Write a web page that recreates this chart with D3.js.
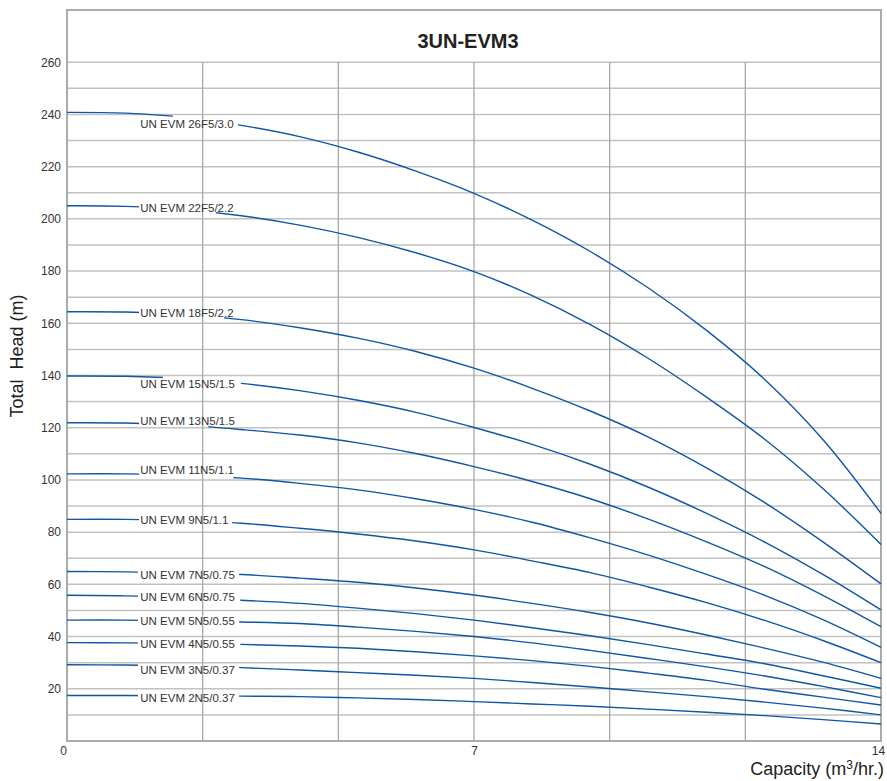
<html>
<head>
<meta charset="UTF-8">
<title>3UN-EVM3</title>
<script src="https://d3js.org/d3.v7.min.js"></script>
<style>
html,body{margin:0;padding:0;background:#fff;}
text{font-family:"Liberation Sans",Arial,sans-serif;}
</style>
</head>
<body>
<div id="container"></div>
<script>
// capacity points (m3/hr) shared by every curve
const capacity = [0, 1, 2, 3, 4, 5, 6, 7, 8, 9, 10, 11, 12, 13, 14]

const models = ['UN EVM 26F5/3.0', 'UN EVM 22F5/2.2', 'UN EVM 18F5/2.2', 'UN EVM 15N5/1.5',
  'UN EVM 13N5/1.5', 'UN EVM 11N5/1.1', 'UN EVM 9N5/1.1', 'UN EVM 7N5/0.75', 'UN EVM 6N5/0.75',
  'UN EVM 5N5/0.55', 'UN EVM 4N5/0.55', 'UN EVM 3N5/0.37', 'UN EVM 2N5/0.37']

// total head (m) for each model at the capacity points above
const head26F5 = [240.8, 240.5, 238.9, 235.8, 231.5, 225.6, 218.3, 209.8, 199.5, 187.5, 173.5, 157.3, 138.5, 115.5, 87.2]
const head22F5 = [205, 204.8, 203.6, 201.2, 197.6, 192.9, 187, 179.8, 170.6, 159.5, 146.5, 131.7, 115.6, 96.7, 75.3]
const head18F5 = [164.4, 164.3, 163.4, 161.4, 158.3, 154.3, 149.2, 142.8, 135.1, 126.4, 116.4, 104.6, 91.3, 76.3, 60.2]
const head15N5 = [139.8, 139.7, 138.9, 137, 134.2, 130.5, 125.9, 120.1, 113.6, 106, 97.2, 87.2, 76.2, 63.8, 50.2]
const head13N5 = [121.9, 121.8, 121, 119.3, 117.2, 114.2, 110.1, 105.1, 99.4, 92.8, 85, 76.3, 66.8, 55.8, 43.8]
const head11N5 = [102.3, 102.3, 101.8, 100.7, 98.7, 96.2, 92.8, 88.7, 83.8, 77.8, 71.2, 63.8, 55.8, 46.5, 35.9]
const head9N5 = [84.9, 84.9, 84.4, 83.4, 81.5, 79.3, 76.6, 73.2, 69, 64.5, 59, 53, 46.2, 38.5, 30]
const head7N5 = [64.9, 64.8, 64.4, 63.8, 62.4, 60.8, 58.6, 55.9, 52.7, 49.2, 45.2, 40.6, 35.6, 30.2, 24]
const head6N5 = [55.8, 55.6, 54.9, 53.9, 52.7, 50.9, 48.8, 46.3, 43.4, 40.3, 36.9, 33.3, 29.6, 25, 20.2]
const head5N5 = [46.3, 46.3, 46, 45.6, 45, 43.6, 42, 40, 37.6, 34.7, 31.6, 28.4, 24.9, 20.9, 16.6]
const head4N5 = [37.7, 37.6, 37.4, 37, 36.4, 35.5, 34.2, 32.6, 30.8, 28.6, 26, 23.2, 19.8, 16.8, 13.8]
const head3N5 = [29.2, 29.1, 28.7, 28.1, 27.2, 26.2, 25.2, 24, 22.4, 20.7, 18.8, 17, 14.9, 12.6, 10]
const head2N5 = [17.4, 17.4, 17.3, 17.2, 17, 16.5, 15.9, 15.1, 14.2, 13.3, 12.2, 11, 9.7, 8.2, 6.5]

const heads = [head26F5, head22F5, head18F5, head15N5, head13N5, head11N5, head9N5,
  head7N5, head6N5, head5N5, head4N5, head3N5, head2N5]

// capacity range where each curve is broken for its label
const gapFrom = [1.82, 1.24, 1.24, 1.65, 1.24, 1.24, 1.24, 1.22, 1.22, 1.22, 1.22, 1.22, 1.22]
const gapTo = [2.94, 2.56, 2.70, 2.99, 2.43, 2.86, 2.84, 2.96, 2.98, 2.96, 2.98, 2.96, 2.96]

const yTicks = [20, 40, 60, 80, 100, 120, 140, 160, 180, 200, 220, 240, 260]
const xTicks = [0, 7, 14]

// label offsets in px from the curve (layout only)
const labelDy = [10, 1, 0, 7, -3, -4, 0, 2.5, 1, 0.5, 1, 4.5, 2.5]

const width = 887, height = 781
const marge = { top: 10, right: 6, bottom: 40, left: 67 }

const svg = d3.select('#container').append('svg')
  .attr('width', width)
  .attr('height', height)

const x = d3.scaleLinear().domain([0, 14]).range([marge.left, width - marge.right])
const y = d3.scaleLinear().domain([0, 280]).range([height - marge.bottom, marge.top])

// horizontal grid every 10 m
svg.append('g').selectAll('line')
  .data(d3.range(10, 261, 10))
  .enter().append('line')
  .attr('x1', x(0)).attr('x2', x(14))
  .attr('y1', d => y(d)).attr('y2', d => y(d))
  .attr('stroke', '#c2c2c2').attr('stroke-width', 1.5)

// vertical grid every 14/6
svg.append('g').selectAll('line')
  .data(d3.range(1, 6).map(i => i * 14 / 6))
  .enter().append('line')
  .attr('x1', d => x(d)).attr('x2', d => x(d))
  .attr('y1', y(260)).attr('y2', y(0))
  .attr('stroke', '#a8a8a8').attr('stroke-width', 1.3)

// frame
svg.append('rect')
  .attr('x', x(0)).attr('y', y(280))
  .attr('width', x(14) - x(0)).attr('height', y(0) - y(280))
  .attr('fill', 'none').attr('stroke', '#ababab').attr('stroke-width', 2)

// axes
const yAxis = svg.append('g')
  .attr('transform', 'translate(' + x(0) + ',0)')
  .call(d3.axisLeft(y).tickValues(yTicks).tickSize(0).tickPadding(6))
yAxis.select('.domain').remove()
yAxis.selectAll('text').attr('font-size', 12).attr('fill', '#333').attr('font-family', '"Liberation Sans",Arial,sans-serif')

const xAxis = svg.append('g')
  .attr('transform', 'translate(0,' + y(0) + ')')
  .call(d3.axisBottom(x).tickValues(xTicks).tickSize(0).tickPadding(5))
xAxis.select('.domain').remove()
xAxis.selectAll('text').attr('font-size', 12).attr('fill', '#333').attr('font-family', '"Liberation Sans",Arial,sans-serif')
  .attr('dx', d => d === 0 ? -4 : (d === 14 ? -3 : 0))

// clip paths leaving a gap for each label
const defs = svg.append('defs')
models.forEach((m, i) => {
  const cp = defs.append('clipPath').attr('id', 'gap' + i)
  cp.append('rect').attr('x', x(0) - 2).attr('y', 0)
    .attr('width', x(gapFrom[i]) - x(0) + 2).attr('height', height)
  cp.append('rect').attr('x', x(gapTo[i])).attr('y', 0)
    .attr('width', x(14) - x(gapTo[i]) + 2).attr('height', height)
})

const line = d3.line()
  .x((d, i) => x(capacity[i]))
  .y(d => y(d))
  .curve(d3.curveCatmullRom.alpha(0.5))

svg.append('g').selectAll('path')
  .data(heads)
  .enter().append('path')
  .attr('d', d => line(d))
  .attr('clip-path', (d, i) => 'url(#gap' + i + ')')
  .attr('fill', 'none')
  .attr('stroke', '#0f56a3')
  .attr('stroke-width', 1.4)

// head at a given capacity, linear between points
function headAt(arr, q) {
  const i = Math.min(d3.bisectRight(capacity, q), capacity.length - 1)
  const t = (q - capacity[i - 1]) / (capacity[i] - capacity[i - 1])
  return arr[i - 1] + t * (arr[i] - arr[i - 1])
}

svg.append('g').selectAll('text')
  .data(models)
  .enter().append('text')
  .attr('x', x(1.26))
  .attr('y', (d, i) => y(headAt(heads[i], 1.26)) + labelDy[i])
  .attr('dy', '0.35em')
  .attr('font-size', 11.5)
  .attr('fill', '#333')
  .text(d => d)

// title
svg.append('text')
  .attr('x', 468).attr('y', 48)
  .attr('text-anchor', 'middle')
  .attr('font-size', 20).attr('font-weight', 'bold').attr('fill', '#222')
  .text('3UN-EVM3')

// axis titles
const xt = svg.append('text')
  .attr('x', 884).attr('y', 775)
  .attr('text-anchor', 'end')
  .attr('font-size', 18).attr('fill', '#222')
xt.append('tspan').text('Capacity (m')
xt.append('tspan').attr('font-size', 12).attr('dy', -6).text('3')
xt.append('tspan').attr('dy', 6).text('/hr.)')

svg.append('text')
  .attr('transform', 'translate(23,356) rotate(-90)')
  .attr('text-anchor', 'middle')
  .attr('font-size', 18).attr('fill', '#222')
  .attr('xml:space', 'preserve')
  .style('white-space', 'pre')
  .text('Total  Head (m)')
</script>
</body>
</html>
